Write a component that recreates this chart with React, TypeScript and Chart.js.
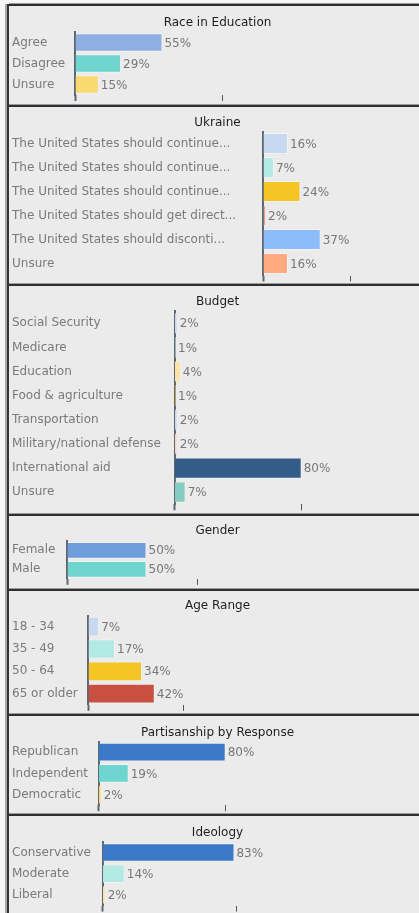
import { useEffect, useRef } from "react";
import { Chart, registerables } from "chart.js";

Chart.register(...registerables);

// ---- survey data ----
const raceLabels = ["Agree", "Disagree", "Unsure"];
const raceValues = [55, 29, 15];
const raceColors = ["#8DAFE2", "#6ED6CE", "#F9D970"];

const ukraineLabels = [
  "The United States should continue...",
  "The United States should continue...",
  "The United States should continue...",
  "The United States should get direct...",
  "The United States should disconti...",
  "Unsure",
];
const ukraineValues = [16, 7, 24, 2, 37, 16];
const ukraineColors = ["#C6D9F1", "#B4EAE4", "#F5C425", "#E8A090", "#8CBDFA", "#FFAA80"];

const budgetLabels = [
  "Social Security",
  "Medicare",
  "Education",
  "Food & agriculture",
  "Transportation",
  "Military/national defense",
  "International aid",
  "Unsure",
];
const budgetValues = [2, 1, 4, 1, 2, 2, 80, 7];
const budgetColors = ["#C6D9F1", "#B4EAE4", "#FBE3A0", "#F5C425", "#C6D9F1", "#F9D5C8", "#335C88", "#86CCC2"];

const genderLabels = ["Female", "Male"];
const genderValues = [50, 50];
const genderColors = ["#6F9EDC", "#6ED6CE"];

const ageLabels = ["18 - 34", "35 - 49", "50 - 64", "65 or older"];
const ageValues = [7, 17, 34, 42];
const ageColors = ["#C6D9F1", "#B4EAE4", "#F5C425", "#C85040"];

const partyLabels = ["Republican", "Independent", "Democratic"];
const partyValues = [80, 19, 2];
const partyColors = ["#3B78C8", "#6ED6CE", "#F9D970"];

const ideologyLabels = ["Conservative", "Moderate", "Liberal"];
const ideologyValues = [83, 14, 2];
const ideologyColors = ["#3B78C8", "#B4EAE4", "#FBE3A0"];

// single reference tick shown under each axis (percent)
const markerTicks = [93, 56, 80, 82, 60, 80, 84];

// ---- panel geometry (page pixels) ----
type Panel = {
  title: string;
  labels: string[];
  values: number[];
  colors: string[];
  marker: number;
  border: number;
  next: number;
  axisX: number;
  plotTop: number;
  plotBottom: number;
  titleY: number;
  pxPerPct: number;
};

const panels: Panel[] = [
  { title: "Race in Education", labels: raceLabels, values: raceValues, colors: raceColors, marker: markerTicks[0],
    border: 4, next: 105, axisX: 75, plotTop: 32, plotBottom: 95, titleY: 23, pxPerPct: 1.59 },
  { title: "Ukraine", labels: ukraineLabels, values: ukraineValues, colors: ukraineColors, marker: markerTicks[1],
    border: 105, next: 284, axisX: 263, plotTop: 131.5, plotBottom: 275.5, titleY: 123, pxPerPct: 1.56 },
  { title: "Budget", labels: budgetLabels, values: budgetValues, colors: budgetColors, marker: markerTicks[2],
    border: 284, next: 514, axisX: 174.5, plotTop: 311.3, plotBottom: 504.3, titleY: 301.7, pxPerPct: 1.59 },
  { title: "Gender", labels: genderLabels, values: genderValues, colors: genderColors, marker: markerTicks[3],
    border: 514, next: 589, axisX: 67, plotTop: 540.8, plotBottom: 578.8, titleY: 531, pxPerPct: 1.59 },
  { title: "Age Range", labels: ageLabels, values: ageValues, colors: ageColors, marker: markerTicks[4],
    border: 589, next: 714, axisX: 88, plotTop: 615.5, plotBottom: 704.8, titleY: 605.7, pxPerPct: 1.59 },
  { title: "Partisanship by Response", labels: partyLabels, values: partyValues, colors: partyColors, marker: markerTicks[5],
    border: 714, next: 814, axisX: 98.5, plotTop: 741.6, plotBottom: 805.3, titleY: 732.7, pxPerPct: 1.59 },
  { title: "Ideology", labels: ideologyLabels, values: ideologyValues, colors: ideologyColors, marker: markerTicks[6],
    border: 814, next: 913, axisX: 102.5, plotTop: 841.9, plotBottom: 905.6, titleY: 832.7, pxPerPct: 1.59 },
];

const FONT = '"DejaVu Sans", Verdana, sans-serif';
const PANEL_LEFT = 9;
const CANVAS_W = 414;
const TITLE_LH = 14.4;

const valueLabels = {
  id: "valueLabels",
  afterDatasetsDraw(chart: any) {
    const ctx = chart.ctx;
    const meta = chart.getDatasetMeta(0);
    const data = chart.data.datasets[0].data as number[];
    ctx.save();
    ctx.font = `12px ${FONT}`;
    ctx.fillStyle = "#777777";
    ctx.textAlign = "left";
    ctx.textBaseline = "middle";
    meta.data.forEach((bar: any, i: number) => {
      ctx.fillText(`${data[i]}%`, bar.x + 2, bar.y + 1);
    });
    ctx.restore();
  },
};

function PanelChart({ p }: { p: Panel }) {
  const ref = useRef<HTMLCanvasElement>(null);
  const canvasTop = p.border + 2;
  const H = p.next - canvasTop;

  useEffect(() => {
    if (!ref.current) return;
    const axisLocal = p.axisX - PANEL_LEFT;
    const titleLocal = p.titleY - canvasTop;
    const topLocal = p.plotTop - canvasTop;
    const bottomLocal = p.plotBottom - canvasTop;
    const tickLen = 6;
    const padLeft = 3;
    // the value axis runs to the right edge of the canvas at a fixed px-per-percent scale
    const xMax = (CANVAS_W - axisLocal) / p.pxPerPct;

    const chart = new Chart(ref.current, {
      type: "bar",
      data: {
        labels: p.labels,
        datasets: [
          {
            data: p.values,
            backgroundColor: p.colors,
            borderColor: "rgba(255,255,255,0.35)",
            borderWidth: 1,
            barPercentage: 0.88,
            categoryPercentage: 1,
          },
        ],
      },
      options: {
        indexAxis: "y",
        responsive: false,
        animation: false,
        devicePixelRatio: 1,
        events: [],
        layout: {
          padding: {
            left: padLeft,
            right: 0,
            top: 0,
            bottom: H - bottomLocal - tickLen,
          },
        },
        plugins: {
          legend: { display: false },
          tooltip: { enabled: false },
          title: {
            display: true,
            text: p.title,
            color: "#1e1e1e",
            font: { family: FONT, size: 12, weight: "normal", lineHeight: 1.2 },
            padding: {
              top: titleLocal - TITLE_LH / 2,
              bottom: topLocal - titleLocal - TITLE_LH / 2,
            },
          },
        },
        scales: {
          x: {
            type: "linear",
            min: 0,
            max: xMax,
            afterBuildTicks: (s: any) => {
              s.ticks = [{ value: 0 }, { value: p.marker }];
            },
            ticks: { display: false },
            grid: {
              display: true,
              drawOnChartArea: false,
              drawTicks: true,
              tickLength: tickLen,
              tickWidth: (c: any) => (c.index === 0 ? 2 : 1),
              tickColor: (c: any) => (c.index === 0 ? "#5f6670" : "#555555"),
            },
            border: { display: false },
          },
          y: {
            type: "category",
            z: 1,
            afterFit: (s: any) => {
              s.width = axisLocal - padLeft;
            },
            grid: { display: false },
            border: { display: true, color: "#5f6670", width: 2 },
            ticks: {
              autoSkip: false,
              crossAlign: "far",
              color: "#7a7a7a",
              padding: 0,
              font: { family: FONT, size: 12 },
            },
          },
        },
      },
      plugins: [valueLabels],
    } as any);
    return () => chart.destroy();
  }, []);

  return (
    <div
      style={{
        position: "absolute",
        left: PANEL_LEFT,
        top: p.border,
        width: 419 - PANEL_LEFT,
        height: p.next - p.border,
        borderTop: "2px solid #2f2f2f",
        boxShadow: "0 -1px 0 #9c9c9c",
        boxSizing: "border-box",
        background: "#ebebeb",
        overflow: "hidden",
      }}
    >
      <canvas ref={ref} width={CANVAS_W} height={H} style={{ display: "block", width: CANVAS_W, height: H }} />
    </div>
  );
}

export default function App() {
  return (
    <div
      style={{
        position: "absolute",
        left: 0,
        top: 0,
        width: 419,
        height: 913,
        overflow: "hidden",
        background: "#f6f6f6",
      }}
    >
      <div style={{ position: "absolute", left: 5, top: 4, width: 2, height: 909, background: "#a8a8a8" }} />
      <div style={{ position: "absolute", left: 7, top: 4, width: 2, height: 909, background: "#333333" }} />
      {panels.map((p) => (
        <PanelChart key={p.title} p={p} />
      ))}
    </div>
  );
}
